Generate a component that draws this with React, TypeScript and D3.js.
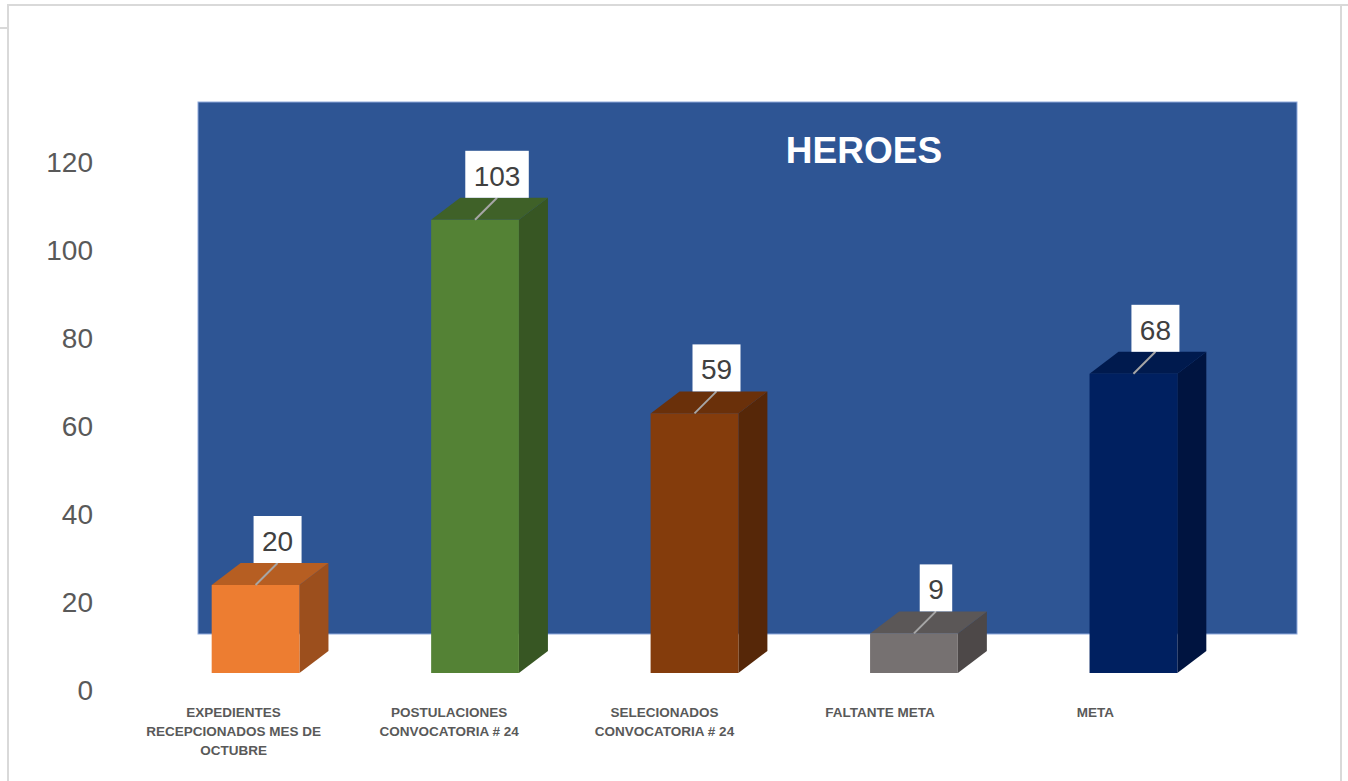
import React, { useEffect, useRef } from "react";
import * as d3 from "d3";

// --- Data ---
const categories = [
  "EXPEDIENTES RECEPCIONADOS MES DE OCTUBRE",
  "POSTULACIONES CONVOCATORIA # 24",
  "SELECIONADOS CONVOCATORIA # 24",
  "FALTANTE META",
  "META",
];
const categoryLines = [
  ["EXPEDIENTES", "RECEPCIONADOS MES DE", "OCTUBRE"],
  ["POSTULACIONES", "CONVOCATORIA # 24"],
  ["SELECIONADOS", "CONVOCATORIA # 24"],
  ["FALTANTE META"],
  ["META"],
];
const values = [20, 103, 59, 9, 68];
const yTicks = [0, 20, 40, 60, 80, 100, 120];

// front / top / side shades per bar
const frontColors = ["#ED7D31", "#548235", "#843C0C", "#767171", "#002060"];
const topColors = ["#B65E22", "#3F6128", "#6A300A", "#5B5757", "#001A4E"];
const sideColors = ["#9C4F1D", "#375623", "#562708", "#4D4848", "#001440"];

const title = "HEROES";

export default function App() {
  const svgRef = useRef<SVGSVGElement>(null);

  useEffect(() => {
    const width = 1348;
    const height = 781;
    const svg = d3.select(svgRef.current)
      .attr("width", width)
      .attr("height", height);
    svg.selectAll("*").remove();

    const font = "'Liberation Sans', Arial, sans-serif";

    // --- Frame ---
    const frame = svg.append("g").attr("stroke", "#D9D9D9").attr("stroke-width", 2).attr("fill", "none");
    frame.append("path").attr("d", `M8,${height} V5 H1341 V${height}`);
    frame.append("line").attr("x1", 0).attr("x2", 8).attr("y1", 28).attr("y2", 28);
    frame.append("line").attr("x1", 1341).attr("x2", width).attr("y1", 5).attr("y2", 5);

    // --- Scales ---
    const x = d3.scaleBand<string>()
      .domain(categories)
      .range([80, 1309])
      .paddingInner(0.6)
      .paddingOuter(0.6);
    const y = d3.scaleLinear().domain([0, 120]).range([673, 145]);
    const depthX = 29;
    const depthY = 22;

    // --- Plot area (blue wall) ---
    svg.append("rect")
      .attr("x", 198)
      .attr("y", 102)
      .attr("width", 1099)
      .attr("height", 532)
      .attr("fill", "#2E5594")
      .attr("stroke", "#8FAADC")
      .attr("stroke-width", 1);

    svg.append("text")
      .attr("x", 864)
      .attr("y", 163)
      .attr("text-anchor", "middle")
      .attr("font-family", font)
      .attr("font-weight", "bold")
      .attr("font-size", 37)
      .attr("fill", "#FFFFFF")
      .text(title);

    // --- Y axis labels ---
    svg.append("g")
      .selectAll("text")
      .data(yTicks)
      .join("text")
      .attr("x", 93)
      .attr("y", d => y(d) + 17)
      .attr("dy", "0.35em")
      .attr("text-anchor", "end")
      .attr("font-family", font)
      .attr("font-size", 28)
      .attr("fill", "#595959")
      .text(d => d);

    // --- 3D bars ---
    const bars = svg.append("g")
      .selectAll("g")
      .data(values)
      .join("g");

    const x0 = (i: number) => x(categories[i])!;
    const x1 = (i: number) => x(categories[i])! + x.bandwidth();
    const pts = (p: number[][]) => p.map(q => q.join(",")).join(" ");

    bars.append("polygon")
      .attr("points", (d, i) => pts([
        [x1(i), y(d)], [x1(i) + depthX, y(d) - depthY],
        [x1(i) + depthX, y(0) - depthY], [x1(i), y(0)],
      ]))
      .attr("fill", (d, i) => sideColors[i]);

    bars.append("polygon")
      .attr("points", (d, i) => pts([
        [x0(i), y(d)], [x1(i), y(d)],
        [x1(i) + depthX, y(d) - depthY], [x0(i) + depthX, y(d) - depthY],
      ]))
      .attr("fill", (d, i) => topColors[i]);

    bars.append("rect")
      .attr("x", (d, i) => x0(i))
      .attr("y", d => y(d))
      .attr("width", x.bandwidth())
      .attr("height", d => y(0) - y(d))
      .attr("fill", (d, i) => frontColors[i]);

    // --- Data labels ---
    const labels = svg.append("g")
      .selectAll("g")
      .data(values)
      .join("g");

    const cx = (i: number) => x0(i) + x.bandwidth() / 2;
    const boxW = (d: number) => String(d).length * 15.5 + 17;

    labels.append("line")
      .attr("x1", (d, i) => cx(i) + 22)
      .attr("y1", d => y(d) - depthY)
      .attr("x2", (d, i) => cx(i))
      .attr("y2", d => y(d))
      .attr("stroke", "#A6A6A6")
      .attr("stroke-width", 2);

    labels.append("rect")
      .attr("x", (d, i) => cx(i) + 22 - boxW(d) / 2)
      .attr("y", d => y(d) - depthY - 47)
      .attr("width", d => boxW(d))
      .attr("height", 47)
      .attr("fill", "#FFFFFF");

    labels.append("text")
      .attr("x", (d, i) => cx(i) + 22)
      .attr("y", d => y(d) - depthY - 12)
      .attr("text-anchor", "middle")
      .attr("font-family", font)
      .attr("font-size", 28)
      .attr("fill", "#404040")
      .text(d => d);

    // --- Category labels ---
    const cats = svg.append("g")
      .selectAll("text")
      .data(categoryLines)
      .join("text")
      .attr("text-anchor", "middle")
      .attr("font-family", font)
      .attr("font-weight", "bold")
      .attr("font-size", 13.5)
      .attr("fill", "#595959");

    cats.each(function (lines, i) {
      d3.select(this)
        .selectAll("tspan")
        .data(lines)
        .join("tspan")
        .attr("x", cx(i) - 22 - 4 * i)
        .attr("y", (l, k) => 717 + k * 19)
        .text(l => l);
    });
  }, []);

  return <svg ref={svgRef} style={{ position: "absolute", left: 0, top: 0, background: "#FFFFFF" }}></svg>;
}
